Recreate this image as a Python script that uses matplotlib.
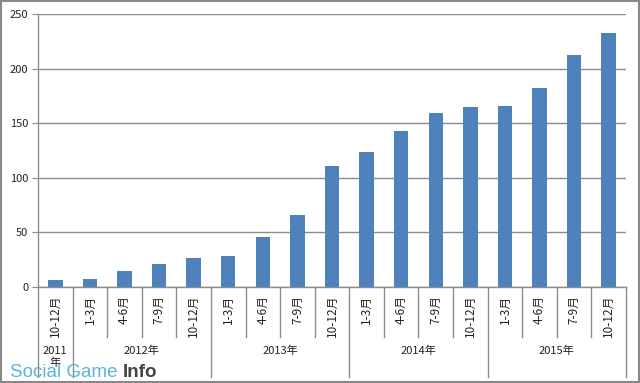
import matplotlib
matplotlib.use('Agg')
import matplotlib.pyplot as plt
from matplotlib.patches import Rectangle
from matplotlib.transforms import blended_transform_factory

plt.rcParams['font.family'] = ['Noto Sans CJK JP', 'DejaVu Sans']

# quarterly values
quarters = ['10-12月',
            '1-3月', '4-6月', '7-9月', '10-12月',
            '1-3月', '4-6月', '7-9月', '10-12月',
            '1-3月', '4-6月', '7-9月', '10-12月',
            '1-3月', '4-6月', '7-9月', '10-12月']
values = [6, 7, 15, 21.5, 27, 28, 46, 66, 111, 124, 143, 159, 165, 166, 182, 212, 233]
years = ['2011\n年', '2012年', '2013年', '2014年', '2015年']
year_sizes = [1, 4, 4, 4, 4]
yticks = [0, 50, 100, 150, 200, 250]

grid_col = '#8c8c8c'
bar_col = '#4f81bd'
txt_col = '#222222'

fig = plt.figure(figsize=(6.4, 3.83), dpi=100)
ax = fig.add_axes([38 / 640, 96 / 383, 588 / 640, 273 / 383])

x = list(range(len(values)))
ax.bar(x, values, width=0.42, color=bar_col, zorder=3)

ax.set_xlim(-0.5, len(values) - 0.5)
ax.set_ylim(0, 250)
ax.set_yticks(yticks)
ax.set_xticks([])
ax.tick_params(axis='y', length=4, color=grid_col, labelsize=8, labelcolor=txt_col, pad=3)
ax.yaxis.grid(True, color=grid_col, lw=1, zorder=0)
for s in ['top', 'right']:
    ax.spines[s].set_visible(False)
for s in ['left', 'bottom']:
    ax.spines[s].set_color(grid_col)
    ax.spines[s].set_linewidth(1)

# multi level category axis
tr = blended_transform_factory(ax.transData, ax.transAxes)
for i, q in enumerate(quarters):
    ax.text(i, -0.028, q, rotation=90, ha='center', va='top', fontsize=8.5,
            color=txt_col, transform=tr, clip_on=False)

short_y = -50 / 273
long_y = -90 / 273
bounds = [-0.5]
for n in year_sizes:
    bounds.append(bounds[-1] + n)
for i in range(len(values) + 1):
    xb = i - 0.5
    yb = long_y if xb in bounds else short_y
    ax.plot([xb, xb], [0, yb], color=grid_col, lw=1, transform=tr, clip_on=False)

for k, lab in enumerate(years):
    xc = (bounds[k] + bounds[k + 1]) / 2
    ax.text(xc, -59 / 273, lab, ha='center', va='top', fontsize=8,
            color=txt_col, transform=tr, linespacing=1.25)

# watermark
fig.text(10 / 640, 6 / 383, 'Social Game', fontsize=13.5, color='#5ab4d6',
         family='Liberation Sans', ha='left', va='baseline')
fig.text(123 / 640, 6 / 383, 'Info', fontsize=13.5, color='#444444', weight='bold',
         family='Liberation Sans', ha='left', va='baseline')

# outer frame
fig.patches.append(Rectangle((0.001, 0.002), 0.997, 0.995, transform=fig.transFigure,
                             fill=False, edgecolor='#888888', lw=1.5))

fig.savefig('out.png', dpi=100)
